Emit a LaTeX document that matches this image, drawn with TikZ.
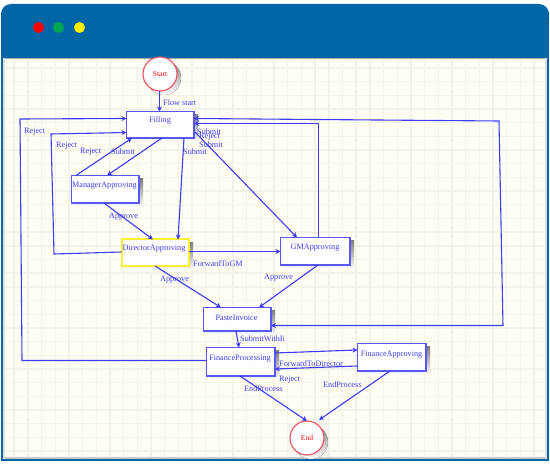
\documentclass[tikz,border=0pt]{standalone}
\usepackage{fontspec}
\setmainfont{Liberation Serif}
\usetikzlibrary{arrows.meta,calc}
\definecolor{hdr}{HTML}{0066A6}
\definecolor{paper}{HTML}{FEFEF4}
\definecolor{gridc}{HTML}{F2F2E8}
\definecolor{flow}{HTML}{3C3CF5}
\definecolor{boxline}{HTML}{5858F5}
\definecolor{shade}{HTML}{BCBCB6}
\definecolor{lab}{HTML}{3C3CEE}
\definecolor{ringc}{HTML}{F05060}
\definecolor{yel}{HTML}{F8F030}
\tikzset{
 statebox/.style={draw=boxline,line width=1.7pt,fill=white,inner sep=0pt,outer sep=0pt,anchor=north west},
 ends/.style={circle,draw=ringc,line width=1.1pt,fill=white,text=red,font=\fontsize{7.5}{9}\selectfont,minimum size=34pt,inner sep=0pt,outer sep=0pt},
 conn/.style={draw=flow,line width=1.1pt,-{Stealth[length=5pt,width=5pt]}},
 conntwo/.style={draw=flow,line width=1.1pt,{Stealth[length=5pt,width=5pt]}-{Stealth[length=5pt,width=5pt]}},
 lbl/.style={text=lab,font=\fontsize{8.2}{9}\selectfont,inner sep=0pt,anchor=west},
 ttl/.style={text=lab,font=\fontsize{8.2}{9}\selectfont,inner sep=0pt},
 dot/.style={circle,minimum size=11pt,inner sep=0pt}
}
\begin{document}
\begin{tikzpicture}[x=1pt,y=-1pt]
\useasboundingbox (0,0) rectangle (550,468);
\fill[white] (0,0) rectangle (550,468);
% frame
\fill[hdr,rounded corners=10pt] (1,30) -- (1,4) -- (549,4) -- (549,30) -- cycle;
\fill[hdr] (1,20) rectangle (549,461);
\fill[paper] (3,58) rectangle (546.5,459);
\begin{scope}
\clip (3,58) rectangle (546.5,459);
\foreach \i in {0,...,40} {\fill[gridc] ({0.5+13.68*\i-.7},58) rectangle ({0.5+13.68*\i+.7},459);}
\foreach \i in {0,...,29} {\fill[gridc] (3,{54.3+13.68*\i-.7}) rectangle (546.5,{54.3+13.68*\i+.7});}
\end{scope}
\fill[black!35] (3,58) rectangle (546.5,59.3);
\fill[black!22] (3,457.5) rectangle (546.5,459);
\fill[black!12] (3,58) rectangle (4.5,459);
\fill[black!12] (545,58) rectangle (546.5,459);
\node[dot,fill=red] (d1) at (38.5,27.5) {};
\node[dot,fill={rgb,255:red,0;green,166;blue,81}] (d2) at (58.5,27.5) {};
\node[dot,fill=yellow] (d3) at (79.5,27.5) {};
% shadows
\fill[shade] (164,78) circle[radius=17];
\fill[shade] (311,442) circle[radius=17];
\foreach \a/\b/\c/\d in {126/111/194/138,71/175/139/203,121/239/189/266,280/237/350/265,203/307/271/331,206/347/275/376,357/343/426/371}
 {\fill[shade] (\a+4,\b+4) rectangle (\c+4,\d+4);}
% nodes
\node[ends] (start) at (160,74) {Start};
\node[ends] (end) at (307,438) {End};
\node[statebox,minimum width=67.5pt,minimum height=26.5pt] (fill) at (126.5,111.5) {};
\node[statebox,minimum width=67.5pt,minimum height=27.5pt] (mgr) at (71.5,175.5) {};
\node[statebox,draw=yel,line width=2pt,minimum width=67.5pt,minimum height=26.5pt] (dir) at (121.5,239.5) {};
\node[statebox,minimum width=69.5pt,minimum height=27.5pt] (gm) at (280.5,237.5) {};
\node[statebox,minimum width=67.5pt,minimum height=23.5pt] (paste) at (203.5,307.5) {};
\node[statebox,minimum width=68.5pt,minimum height=28.5pt] (fp) at (206.5,347.5) {};
\node[statebox,minimum width=68.5pt,minimum height=27.5pt] (fa) at (357.5,343.5) {};
\node[ttl] (t1) at (160,121) {Filling};
\node[ttl] (t2) at (104.5,186) {ManagerApproving};
\node[ttl] (t3) at (154,249) {DirectorApproving};
\node[ttl] (t4) at (315,247.5) {GMApproving};
\node[ttl] (t5) at (236.5,317.5) {PasteInvoice};
\node[ttl] (t6) at (240,358.5) {FinanceProcessing};
\node[ttl] (t7) at (391.5,354.5) {FinanceApproving};
% connectors
\draw[conn] (start.south -| 159.5,0) -- (fill.north -| 159.5,0);
\draw[conn] (fp.west |- 0,360.5) -- (22,360.5) -- (20,119) -- (fill.west |- 0,118.5);
\draw[conn] (dir.west |- 0,252) -- (54,254) -- (51,134) -- (fill.west |- 0,132.5);
\draw[conn] (mgr.north -| 76,0) -- (fill.south -| 132,0);
\draw[conn] (fill.south -| 162,0) -- (mgr.north -| 107,0);
\draw[conn] (fill.south -| 184,0) -- (dir.north -| 178,0);
\draw[conn] (195,132) -- (gm.north -| 297,0);
\draw[conn] (gm.north -| 318.5,0) -- (318.5,123.5) -- (fill.east |- 0,123.5);
\draw[conntwo] (fill.east |- 0,118.5) -- (499,121) -- (503,325.5) -- (paste.east |- 0,325.5);
\draw[conn] (mgr.south -| 104,0) -- (dir.north -| 153,0);
\draw[conn] (dir.south -| 155,0) -- (paste.north -| 221,0);
\draw[conn] (dir.east |- 0,251.5) -- (gm.west |- 0,251.5);
\draw[conn] (gm.south -| 318,0) -- (paste.north -| 259,0);
\draw[conn] (paste.south -| 236,0) -- (fp.north -| 239,0);
\draw[conn] (fp.east |- 0,353) -- (fa.west |- 0,350);
\draw[conn] (fa.west |- 0,366) -- (fp.east |- 0,369);
\draw[conn] (fp.south -| 240,0) -- (end.north);
\draw[conn] (fa.south -| 390,0) -- (319,420);
% labels
\node[lbl] (l1) at (163,102.5) {Flow start};
\node[lbl] (l2) at (24,131.5) {Reject};
\node[lbl] (l3) at (56,145.5) {Reject};
\node[lbl] (l4) at (80,151.5) {Reject};
\node[lbl] (l5) at (111,151.5) {Submit};
\node[lbl] (l6) at (183,151.5) {Submit};
\node[lbl] (l7) at (197,131.5) {Submit};
\node[lbl] (l8) at (199,137) {Reject};
\node[lbl] (l9) at (199,144.5) {Submit};
\node[lbl] (l10) at (109,216.5) {Approve};
\node[lbl] (l11) at (193,264) {ForwardToGM};
\node[lbl] (l12) at (160,279.5) {Approve};
\node[lbl] (l13) at (264,277.5) {Approve};
\node[lbl] (l14) at (240,338.5) {SubmitWithIi};
\node[lbl] (l15) at (279,363.5) {ForwardToDirector};
\node[lbl] (l16) at (279,379.5) {Reject};
\node[lbl] (l17) at (244,388.5) {EndProcess};
\node[lbl] (l18) at (323,384.5) {EndProcess};
\end{tikzpicture}
\end{document}
